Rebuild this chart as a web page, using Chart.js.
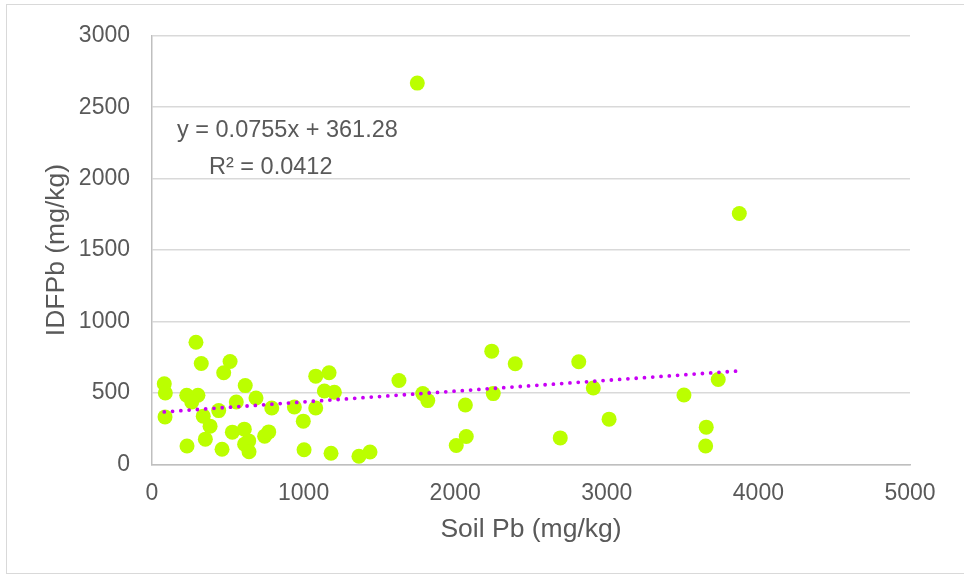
<!DOCTYPE html>
<html>
<head>
<meta charset="utf-8">
<script src="https://cdn.jsdelivr.net/npm/chart.js@4.4.1/dist/chart.umd.min.js"></script>
<style>
  body { margin: 0; background: #fff; }
  #wrap { position: relative; width: 964px; height: 578px; }
  #frame { position: absolute; left: 6px; top: 4px; width: 962px; height: 570px; border: 1px solid #d9d9d9; box-sizing: border-box; }
  canvas { position: absolute; left: 0; top: 0; }
</style>
</head>
<body>
<div id="wrap">
  <div id="frame"></div>
  <canvas id="scatterChart" width="964" height="578"></canvas>
</div>
<script>
// soil Pb vs IDFPb
var soilPb = [81, 88, 86, 290, 325, 229, 303, 262, 338, 383, 440, 352, 231, 462, 515, 473,
    615, 556, 686, 530, 609, 638, 611, 640, 790, 743, 770, 939, 998, 1003, 1080, 1168,
    1137, 1203, 1080, 1181, 1365, 1438, 1629, 1786, 1819, 2067, 2073, 2007, 2241, 2396,
    2251, 2693, 2815, 2911, 3015, 3509, 3656, 3652, 3735, 1750, 3874];
var idfPb = [564, 499, 332, 854, 706, 483, 483, 436, 337, 267, 376, 176, 128, 105, 720, 641,
    551, 436, 464, 225, 246, 164, 141, 88, 394, 197, 227, 401, 302, 102, 617, 641,
    513, 504, 394, 77, 56, 86, 587, 495, 446, 415, 195, 132, 792, 704,
    495, 185, 718, 534, 316, 485, 260, 128, 594, 2669, 1756];

// linear trendline ends (as drawn)
var trendX = [81, 3874];
var trendY = [367, 654];
var trendLabels = ['y = 0.0755x + 361.28', 'R\u00b2 = 0.0412'];

var xTicks = [0, 1000, 2000, 3000, 4000, 5000];
var yTicks = [0, 500, 1000, 1500, 2000, 2500, 3000];

var textColor = '#595959';
var fontFamily = 'Arial, "Liberation Sans", sans-serif';

var points = soilPb.map(function (x, i) { return { x: x, y: idfPb[i] }; });
var trend = trendX.map(function (x, i) { return { x: x, y: trendY[i] }; });

var equationLabel = {
    id: 'equationLabel',
    afterDatasetsDraw: function (chart) {
        var ctx = chart.ctx;
        var area = chart.chartArea;
        ctx.save();
        ctx.fillStyle = textColor;
        ctx.font = '23.5px ' + fontFamily;
        ctx.textBaseline = 'alphabetic';
        ctx.textAlign = 'left';
        ctx.fillText(trendLabels[0], area.left + 25, 137);
        ctx.fillText(trendLabels[1], area.left + 57, 174);
        ctx.restore();
    }
};

function plainTick(value) {
    return String(value);
}

document.addEventListener('DOMContentLoaded', function () {
    var ctx = document.getElementById('scatterChart').getContext('2d');
    var scatterChart = new Chart(ctx, {
        type: 'scatter',
        data: {
            datasets: [{
                label: 'Linear trend',
                type: 'line',
                data: trend,
                borderColor: '#c800f5',
                borderWidth: 3.8,
                borderDash: [0, 8.3],
                borderCapStyle: 'round',
                pointRadius: 0,
                fill: false
            }, {
                label: 'IDFPb',
                data: points,
                backgroundColor: '#bbff00',
                borderWidth: 0,
                pointRadius: 7.5,
                pointHoverRadius: 7.5
            }]
        },
        options: {
            responsive: false,
            animation: false,
            layout: {
                padding: { left: 0, top: 33.5, right: 54, bottom: 0 }
            },
            plugins: {
                legend: { display: false },
                tooltip: { enabled: false }
            },
            scales: {
                x: {
                    type: 'linear',
                    min: 0,
                    max: 5000,
                    afterBuildTicks: function (axis) {
                        axis.ticks = xTicks.map(function (v) { return { value: v }; });
                    },
                    afterFit: function (axis) { axis.height = 113.7; },
                    grid: { display: false, drawTicks: false },
                    border: { color: '#bfbfbf', width: 1.5 },
                    ticks: {
                        padding: 16,
                        color: textColor,
                        font: { family: fontFamily, size: 23 },
                        callback: plainTick
                    },
                    title: {
                        display: true,
                        text: 'Soil Pb (mg/kg)',
                        color: textColor,
                        font: { family: fontFamily, size: 26.5 },
                        padding: { top: 0, bottom: 32 }
                    }
                },
                y: {
                    type: 'linear',
                    min: 0,
                    max: 3000,
                    afterBuildTicks: function (axis) {
                        axis.ticks = yTicks.map(function (v) { return { value: v }; });
                    },
                    afterFit: function (axis) { axis.width = 152; },
                    grid: { color: '#d9d9d9', lineWidth: 1.5, drawTicks: false },
                    border: { color: '#bfbfbf', width: 1.5 },
                    ticks: {
                        padding: 22,
                        color: textColor,
                        font: { family: fontFamily, size: 23 },
                        callback: plainTick
                    },
                    title: {
                        display: true,
                        text: 'IDFPb (mg/kg)',
                        color: textColor,
                        font: { family: fontFamily, size: 26.5 },
                        padding: { top: 41, bottom: 0 }
                    }
                }
            }
        },
        plugins: [equationLabel]
    });
});
</script>
</body>
</html>
